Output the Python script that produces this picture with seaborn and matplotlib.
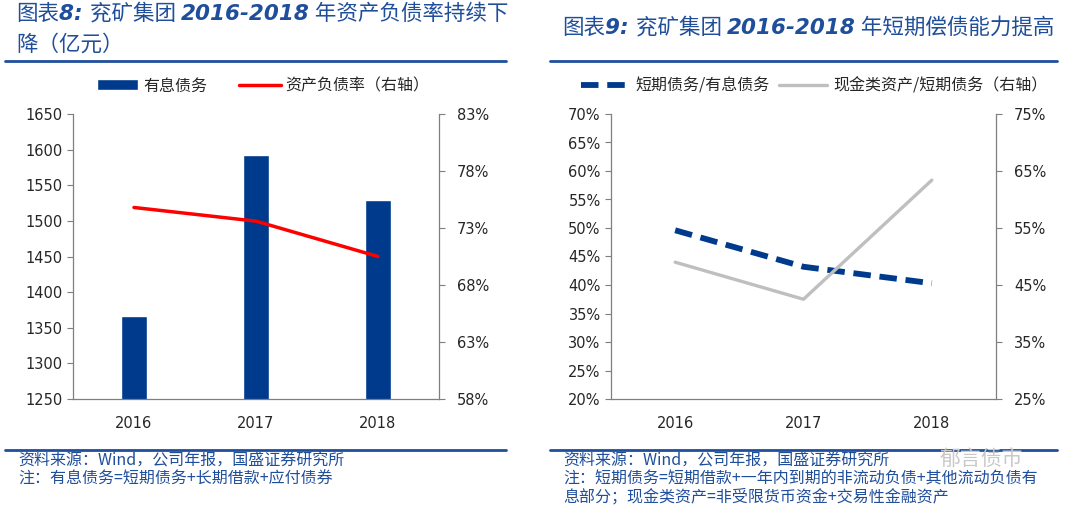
import matplotlib
matplotlib.use('Agg')
import matplotlib.pyplot as plt
import seaborn as sns
from matplotlib.lines import Line2D
from matplotlib.patches import Patch
from matplotlib.ticker import FuncFormatter, MultipleLocator

years = ['2016', '2017', '2018']
interest_debt = [1366, 1592, 1529]        # 有息债务 (亿元)
debt_ratio = [74.8, 73.6, 70.5]           # 资产负债率 %
short_share = [49.6, 43.2, 40.3]          # 短期债务/有息债务 %
cash_cover = [49.0, 42.5, 63.4]           # 现金类资产/短期债务 %

blue = '#003A8C'
title_blue = '#1F4E9B'
grey = '#BFBFBF'
spine_c = '#7F7F7F'

sns.set_style('ticks')
plt.rcParams['font.family'] = ['DejaVu Sans', 'Noto Sans CJK SC']
cjk = ['Noto Sans CJK SC', 'DejaVu Sans']

W, H = 1080, 511
fig = plt.figure(figsize=(W / 100, H / 100), dpi=100)
renderer = fig.canvas.get_renderer()


def box(x0, y0, x1, y1):
    return [x0 / W, 1 - y1 / H, (x1 - x0) / W, (y1 - y0) / H]


def fx(x):
    return x / W


def fy(y):
    return 1 - y / H


pct = FuncFormatter(lambda v, p: f'{v:.0f}%')


def style_axes(ax, axr):
    for s in ['top', 'right']:
        ax.spines[s].set_visible(False)
    for s in ['top', 'left', 'bottom']:
        axr.spines[s].set_visible(False)
    for a in (ax, axr):
        for s in a.spines.values():
            s.set_color(spine_c)
            s.set_linewidth(0.9)
        a.set_xlabel('')
        a.set_ylabel('')
    ax.tick_params(axis='y', direction='out', length=4, color=spine_c, labelsize=10.5, colors='#262626')
    axr.tick_params(axis='y', direction='out', length=4, color=spine_c, labelsize=10.5, colors='#262626', pad=9)
    ax.tick_params(axis='x', length=0, labelsize=10.5, pad=12, colors='#262626')
    ax.set_xlim(-0.5, 2.5)


def title_line(x, y, parts, size=15.5):
    # parts: list of (text, bold) placed one after another
    for text, bold in parts:
        t = fig.text(fx(x), fy(y), text, family=cjk if not bold else ['DejaVu Sans', 'Noto Sans CJK SC'],
                     weight='bold' if bold else 'normal', style='italic',
                     color=title_blue, fontsize=size, va='center', ha='left')
        x += t.get_window_extent(renderer).width


# ---- left chart ----
ax1 = fig.add_axes(box(73, 114, 439, 399))
sns.barplot(x=years, y=interest_debt, color=blue, width=0.22, saturation=1, ax=ax1)
ax1.set_ylim(1250, 1650)
ax1.yaxis.set_major_locator(MultipleLocator(50))
ax1r = ax1.twinx()
sns.lineplot(x=years, y=debt_ratio, color='#FF0000', lw=2.5, sort=False, ax=ax1r)
ax1r.set_ylim(58, 83)
ax1r.set_yticks([58, 63, 68, 73, 78, 83])
ax1r.yaxis.set_major_formatter(pct)
style_axes(ax1, ax1r)

fig.legend(handles=[Patch(facecolor=blue, label='有息债务'),
                    Line2D([], [], color='#FF0000', lw=2.5, label='资产负债率（右轴）')],
           loc='center', bbox_to_anchor=(fx(263), fy(86)), ncol=2, frameon=False,
           handlelength=2.6, handleheight=0.7, columnspacing=2.0, handletextpad=0.3,
           prop={'family': cjk, 'size': 11.5})

# ---- right chart ----
ax2 = fig.add_axes(box(611, 114, 996, 399))
sns.lineplot(x=years, y=short_share, color=blue, lw=4.2, sort=False, ax=ax2)
ax2.lines[0].set_linestyle((0, (3, 1.5)))
ax2.set_ylim(20, 70)
ax2.yaxis.set_major_locator(MultipleLocator(5))
ax2.yaxis.set_major_formatter(pct)
ax2r = ax2.twinx()
sns.lineplot(x=years, y=cash_cover, color=grey, lw=2.4, sort=False, ax=ax2r)
ax2r.set_ylim(25, 75)
ax2r.set_yticks([25, 35, 45, 55, 65, 75])
ax2r.yaxis.set_major_formatter(pct)
style_axes(ax2, ax2r)

fig.legend(handles=[Line2D([], [], color=blue, lw=4.2, ls=(0, (3, 1.5)), label='短期债务/有息债务'),
                    Line2D([], [], color=grey, lw=2.4, label='现金类资产/短期债务（右轴）')],
           loc='center', bbox_to_anchor=(fx(814), fy(86)), ncol=2, frameon=False,
           handlelength=3.0, columnspacing=0.6, handletextpad=0.4,
           prop={'family': cjk, 'size': 11.5})

# ---- titles, rules, footers ----
title_line(16, 14, [('图表', False), ('8: ', True), ('兖矿集团 ', False), ('2016-2018', True),
                    (' 年资产负债率持续下', False)])
title_line(16, 45, [('降（亿元）', False)])
title_line(562, 28, [('图表', False), ('9: ', True), ('兖矿集团 ', False), ('2016-2018', True),
                     (' 年短期偿债能力提高', False)])

for y in (61, 450):
    fig.add_artist(Line2D([fx(5), fx(506)], [fy(y), fy(y)], color=title_blue, lw=2))
    fig.add_artist(Line2D([fx(550), fx(1057)], [fy(y), fy(y)], color=title_blue, lw=2))

fkw = dict(family=cjk, color=title_blue, style='italic', fontsize=11.5, va='center', ha='left')
fig.text(fx(18), fy(461), '资料来源：Wind，公司年报，国盛证券研究所', **fkw)
fig.text(fx(18), fy(479), '注：有息债务=短期债务+长期借款+应付债券', **fkw)
fig.text(fx(563), fy(461), '资料来源：Wind，公司年报，国盛证券研究所', **fkw)
fig.text(fx(563), fy(479), '注：短期债务=短期借款+一年内到期的非流动负债+其他流动负债有', **fkw)
fig.text(fx(563), fy(497), '息部分；现金类资产=非受限货币资金+交易性金融资产', **fkw)
fig.text(fx(940), fy(459), '郁言债市', family=cjk, color='#C8C8C8', fontsize=15, va='center', ha='left')

fig.savefig('out.png', dpi=100)
